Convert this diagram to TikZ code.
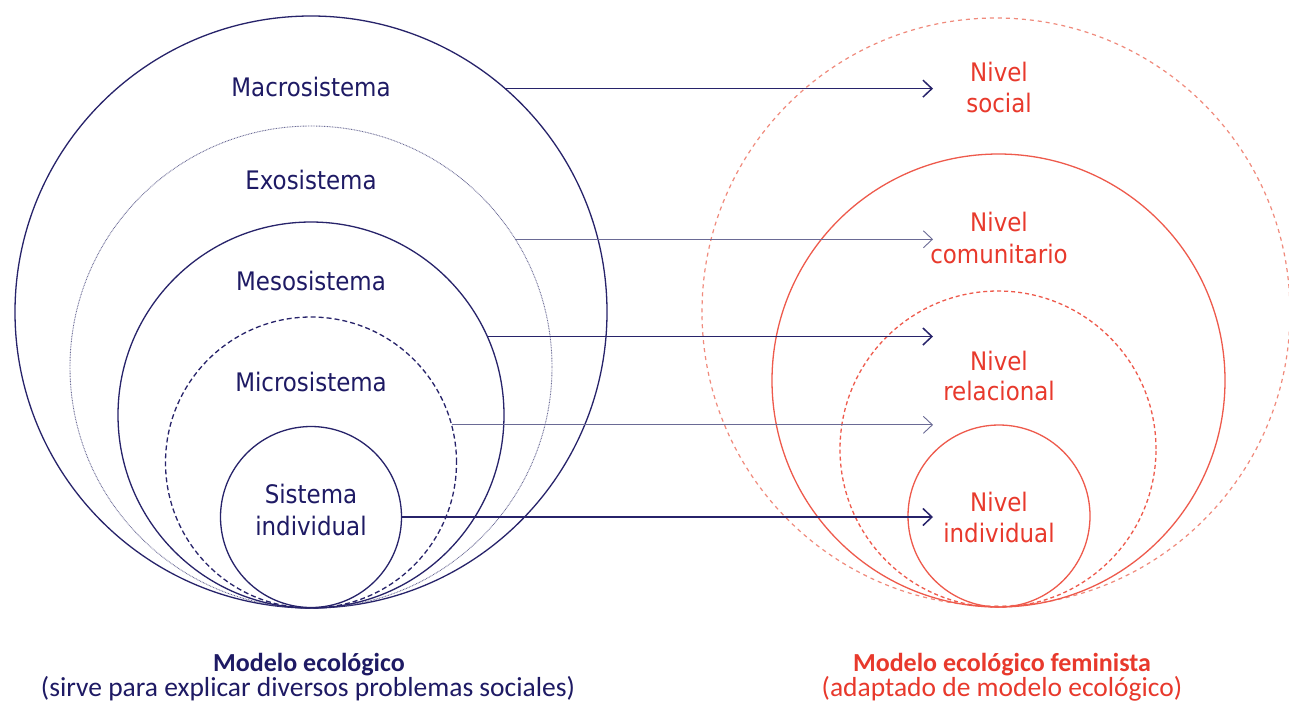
\documentclass[tikz,border=0pt]{standalone}
\usepackage{fontspec}
\usetikzlibrary{arrows.meta}
\newfontfamily\labfont{DejaVu Sans Condensed}
\newfontfamily\capfont{Carlito}
\definecolor{navytext}{HTML}{1E1A64}
\definecolor{navyline}{HTML}{27236A}
\definecolor{navylight}{HTML}{6A6A95}
\definecolor{redtext}{HTML}{E8392C}
\definecolor{redline}{HTML}{EE5A4C}
\definecolor{redlight}{HTML}{F08A7C}
\begin{document}
\begin{tikzpicture}[x=1pt,y=-1pt,
  ring/.style={circle,inner sep=0pt,outer sep=0pt},
  navyring/.style={ring,draw=navyline,line width=1.3pt},
  redring/.style={ring,draw=redline,line width=1.3pt},
  leftlab/.style={font=\labfont\fontsize{25.5}{31}\selectfont,text=navytext,align=center,inner sep=0pt},
  rightlab/.style={font=\labfont\fontsize{25.5}{31}\selectfont,text=redtext,align=center,inner sep=0pt},
  thickarrow/.style={draw=navyline,line width=1.5pt,-{Straight Barb[length=9pt,width=17pt]}},
  thinarrow/.style={draw=navylight,line width=0.9pt,-{Straight Barb[length=9pt,width=17pt]}},
  captitle/.style={font=\capfont\bfseries\fontsize{26}{30}\selectfont,inner sep=0pt},
  capsub/.style={font=\capfont\fontsize{27.5}{30}\selectfont,inner sep=0pt}
]
\useasboundingbox[fill=white] (0,0) rectangle (1289,705);

% left model
\node[navyring,minimum size=592pt] (macro) at (311,312) {};
\node[ring,draw=navylight,line width=0.9pt,dash pattern=on 0.8pt off 0.8pt,minimum size=482pt] (exo) at (311,367) {};
\node[navyring,minimum size=386pt] (meso) at (311,415) {};
\node[navyring,dash pattern=on 5pt off 3pt,minimum size=291pt] (micro) at (311,462.5) {};
\node[navyring,minimum size=181pt] (indiv) at (311,517) {};

\node[leftlab] (lmacro) at (311,87) {Macrosistema};
\node[leftlab] (lexo) at (311,180) {Exosistema};
\node[leftlab] (lmeso) at (311,281) {Mesosistema};
\node[leftlab] (lmicro) at (311,382) {Microsistema};
\node[leftlab] (lsis) at (311,494) {Sistema};
\node[leftlab] (lind) at (311,526) {individual};

% right model
\node[ring,draw=redlight,line width=1.2pt,dash pattern=on 4pt off 4pt,minimum size=588pt] (social) at (996,312) {};
\node[redring,minimum size=453pt] (comun) at (998.5,380.5) {};
\node[redring,dash pattern=on 4pt off 3pt,minimum size=316pt] (rel) at (998,449) {};
\node[redring,minimum size=182pt] (rind) at (999,516) {};

\node[rightlab] (n1a) at (999,72) {Nivel};
\node[rightlab] (n1b) at (999,103) {social};
\node[rightlab] (n2a) at (999,222) {Nivel};
\node[rightlab] (n2b) at (999,254) {comunitario};
\node[rightlab] (n3a) at (999,361) {Nivel};
\node[rightlab] (n3b) at (999,391) {relacional};
\node[rightlab] (n4a) at (999,502) {Nivel};
\node[rightlab] (n4b) at (999,533) {individual};

% connectors
\coordinate (tipx) at (933,0);
\draw[thickarrow] (macro.49.47) -- (macro.49.47 -| tipx);
\draw[thinarrow] (exo.32.93) -- (exo.32.93 -| tipx);
\draw[thickarrow] (meso.24.49) -- (meso.24.49 -| tipx);
\draw[thinarrow] (micro.15.75) -- (micro.15.75 -| tipx);
\draw[thickarrow] (indiv.0.63) -- (indiv.0.63 -| tipx);

% captions
\node[captitle,text=navytext] (t1) at (309,665) {Modelo ecológico};
\node[capsub,text=navytext] (s1) at (308,689) {(sirve para explicar diversos problemas sociales)};
\node[captitle,text=redtext] (t2) at (1002,665) {Modelo ecológico feminista};
\node[capsub,text=redtext] (s2) at (1002,689) {(adaptado de modelo ecológico)};
\end{tikzpicture}
\end{document}
